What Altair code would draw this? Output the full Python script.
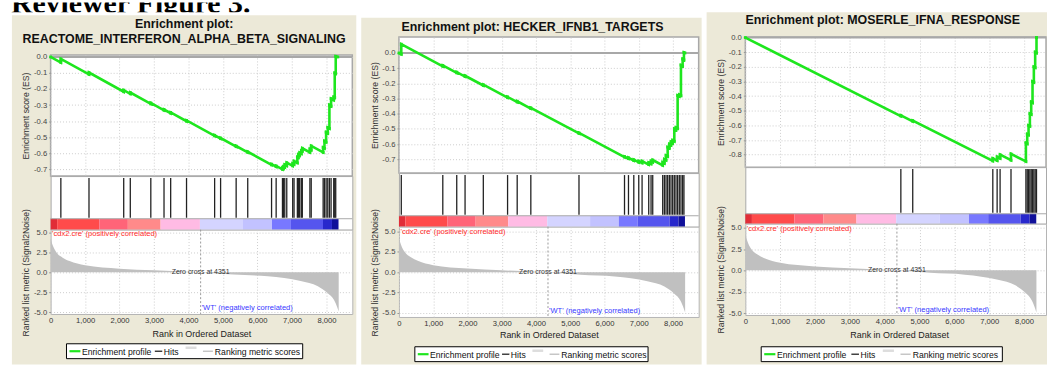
import altair as alt
import pandas as pd

FONT = "Liberation Sans"
GREEN = "#1ee61e"
BEIGE = "#ece9d8"
GRID = "#cdcdcd"

# Ranked list metric (Signal2Noise) shared by the three gene sets
metric_rank = [0, 60, 160, 350, 550, 1000, 2000, 3000, 4351, 5300, 6300, 7250, 7750, 8030, 8220, 8320, 8355]
metric_value = [4.2, 3.4, 2.55, 1.85, 1.42, 0.88, 0.46, 0.25, 0.0, -0.29, -0.5, -1.1, -1.75, -2.6, -3.5, -4.5, -4.95]
zero_cross = 4351

# Heat strip under the hit marks
heat_edges = [0, 190, 1410, 2240, 3190, 4330, 5580, 6420, 6970, 7900, 8160, 8350]
heat_colors = ["#e12d37", "#ff4b4b", "#ff6478", "#ff8a8a", "#ffbbe4", "#d4d4ff",
               "#c2c2ff", "#7878ff", "#5555ee", "#2828cc", "#10109a"]

rank_ticks = [0, 1000, 2000, 3000, 4000, 5000, 6000, 7000, 8000]
metric_ticks = [5.0, 2.5, 0.0, -2.5, -5.0]

# Gene set titles
titles = [
    ["Enrichment plot:", "REACTOME_INTERFERON_ALPHA_BETA_SIGNALING"],
    ["Enrichment plot: HECKER_IFNB1_TARGETS"],
    ["Enrichment plot: MOSERLE_IFNA_RESPONSE"],
]

# Hit positions and running enrichment score just before / after each hit
hits_1 = [297, 1113, 2120, 2311, 2906, 3289, 3482, 3942, 4757, 4930, 5381, 5717, 6408, 6541,
          6724, 6754, 6791, 6849, 7021, 7060, 7156, 7185, 7223, 7271, 7300, 7520, 7558,
          7904, 7942, 7990, 8038, 8086, 8134, 8211, 8240, 8269]
es_before_1 = [-0.035, -0.109, -0.217, -0.230, -0.293, -0.333, -0.351, -0.401, -0.493, -0.510,
               -0.560, -0.596, -0.674, -0.685, -0.702, -0.696, -0.688, -0.679, -0.680, -0.670,
               -0.661, -0.628, -0.615, -0.604, -0.588, -0.596, -0.580, -0.596, -0.570, -0.531,
               -0.476, -0.446, -0.306, -0.269, -0.253, -0.103]
es_after_1 = [-0.012, -0.097, -0.207, -0.222, -0.287, -0.328, -0.346, -0.396, -0.489, -0.506,
              -0.556, -0.592, -0.669, -0.680, -0.692, -0.684, -0.672, -0.660, -0.665, -0.650,
              -0.625, -0.610, -0.598, -0.585, -0.570, -0.575, -0.555, -0.565, -0.525, -0.470,
              -0.440, -0.300, -0.260, -0.250, -0.100, 0.004]
es_end_1 = 8330

hits_2 = [68, 1280, 1687, 1930, 2463, 3171, 3452, 3850, 5256, 6585, 6701, 6856, 7001, 7098,
          7292, 7360, 7409, 7700, 7748, 7797, 7845, 7894, 7942, 7991, 8039, 8088, 8136, 8185,
          8233, 8282, 8320]
es_before_2 = [-0.008, -0.088, -0.131, -0.155, -0.214, -0.294, -0.323, -0.366, -0.530, -0.686,
               -0.696, -0.709, -0.720, -0.724, -0.735, -0.730, -0.718, -0.740, -0.726, -0.706,
               -0.681, -0.626, -0.606, -0.591, -0.581, -0.506, -0.496, -0.286, -0.281, -0.086,
               -0.045]
es_after_2 = [0.058, -0.082, -0.126, -0.150, -0.209, -0.289, -0.318, -0.361, -0.526, -0.682,
              -0.690, -0.703, -0.712, -0.712, -0.722, -0.712, -0.705, -0.720, -0.700, -0.675,
              -0.620, -0.600, -0.585, -0.575, -0.500, -0.490, -0.280, -0.275, -0.080, -0.040,
              0.004]
es_end_2 = 8350

hits_3 = [4464, 4805, 7103, 7227, 7312, 7625, 8053, 8091, 8129, 8167, 8205, 8243, 8281, 8319, 8357]
es_before_3 = [-0.536, -0.572, -0.843, -0.840, -0.825, -0.838, -0.846, -0.725, -0.665, -0.605,
               -0.525, -0.445, -0.305, -0.205, -0.105]
es_after_3 = [-0.531, -0.567, -0.825, -0.815, -0.800, -0.795, -0.720, -0.660, -0.600, -0.520,
              -0.440, -0.300, -0.200, -0.100, 0.0]
es_end_3 = 8360

es_ticks_1 = [0.0, -0.1, -0.2, -0.3, -0.4, -0.5, -0.6, -0.7]
es_ticks_2 = [0.0, -0.1, -0.2, -0.3, -0.4, -0.5, -0.6, -0.7]
es_ticks_3 = [0.0, -0.1, -0.2, -0.3, -0.4, -0.5, -0.6, -0.7, -0.8]

PANELS = [
    dict(hits=hits_1, before=es_before_1, after=es_after_1, end=es_end_1, ticks=es_ticks_1),
    dict(hits=hits_2, before=es_before_2, after=es_after_2, end=es_end_2, ticks=es_ticks_2),
    dict(hits=hits_3, before=es_before_3, after=es_after_3, end=es_end_3, ticks=es_ticks_3),
]

# Geometry of each card (pixels, relative to the card's plotting origin)
LAYOUT = [
    dict(w=304, rank_max=8750, head_h=43, es_h=122, hit_h=54, cb_top=43, rank_h=85,
         es_dom=[-0.7435, 0.0124], rank_dom=[-5.25, 5.375],
         card=(-39, 308, 3), title_x=134.5, title_y=[12, 27],
         legend=(16, 254, 115, 130), ytitle_r=43, xtitle=(152, 20), red_y=4, blue_y=79),
    dict(w=302, rank_max=8750, head_h=25, es_h=137, hit_h=54, cb_top=43, rank_h=91,
         es_dom=[-0.791, 0.1046], rank_dom=[-5.49, 5.61],
         card=(-38, 305, 5.5), title_x=134.5, title_y=[15],
         legend=(16, 251, 121, 136), ytitle_r=46, xtitle=(151, 18), red_y=5, blue_y=85),
    dict(w=303, rank_max=8630, head_h=25, es_h=131, hit_h=57, cb_top=47, rank_h=92,
         es_dom=[-0.885, 0.003], rank_dom=[-5.23, 5.47],
         card=(-39, 304, 0), title_x=138.5, title_y=[8],
         legend=(16, 259, 124, 139), ytitle_r=46, xtitle=(155, 20), red_y=5, blue_y=87),
]
CARD_BOTTOM = 355

HYPHEN = "replace(format(datum.value, '.1f'), '\u2212', '-')"
one = pd.DataFrame({"k": [0]})


def build_panel(k):
    P, L = PANELS[k], LAYOUT[k]
    W = L["w"]
    xs = alt.Scale(domain=[0, L["rank_max"]], nice=False, zero=False)

    # ---- header: beige card and title ----
    cx0, cx1, cy0 = L["card"]
    card = alt.Chart(one).mark_rect(color=BEIGE).encode(
        x=alt.value(cx0), x2=alt.value(cx1), y=alt.value(cy0), y2=alt.value(CARD_BOTTOM))
    head_layers = [card]
    for text, ty in zip(titles[k], L["title_y"]):
        head_layers.append(alt.Chart(one).mark_text(
            text=text, font=FONT, fontSize=12.5, fontWeight="bold", color="#111111",
            align="center", baseline="middle").encode(
            x=alt.value(L["title_x"]), y=alt.value(ty)))
    header = alt.layer(*head_layers).properties(width=W, height=L["head_h"])

    # ---- running enrichment score ----
    ranks, scores = [0], [0.0]
    for h, b, a in zip(P["hits"], P["before"], P["after"]):
        ranks += [h, h]
        scores += [b, a]
    ranks.append(P["end"])
    scores.append(0.0)
    es_df = pd.DataFrame({"i": list(range(len(ranks))), "rank": ranks, "es": scores})

    es_y = alt.Scale(domain=L["es_dom"], nice=False, zero=False)
    zero_line = alt.Chart(one).mark_rule(color="#a8a8a8", strokeWidth=2).encode(y=alt.datum(0))
    es_line = alt.Chart(es_df).mark_line(
        color=GREEN, strokeWidth=2.6,
        point=alt.OverlayMarkDef(color=GREEN, filled=True, shape="square", size=8)).encode(
        x=alt.X("rank:Q", scale=xs, axis=alt.Axis(
            values=rank_ticks, tickCount=50, labels=False, ticks=False, domain=False,
            title="", grid=True, gridColor=GRID, gridDash=[1, 2])),
        y=alt.Y("es:Q", scale=es_y, axis=alt.Axis(
            values=P["ticks"], tickCount=50, labelExpr=HYPHEN, labelFont=FONT,
            labelFontSize=7.7, labelColor="#444444", labelPadding=2, labelOverlap=False,
            tickSize=2, tickColor="#999999", domain=False, grid=True, gridColor=GRID,
            gridDash=[1, 2], title="Enrichment score (ES)", titleFont=FONT, titleFontSize=8.7,
            titleFontWeight="normal", titleColor="#333333", titleAngle=270,
            titleX=-25, titleY=L["es_h"] / 2, titleAlign="center", titleBaseline="middle")),
        order="i:Q")
    es_view = alt.layer(zero_line, es_line).properties(
        width=W, height=L["es_h"],
        view=alt.ViewBackground(fill="white", stroke="#a8a8a8", strokeWidth=1.5))

    # ---- hits and heat strip ----
    hits_df = pd.DataFrame({"rank": P["hits"]})
    heat_df = pd.DataFrame({"start": heat_edges[:-1], "end": heat_edges[1:], "color": heat_colors})
    hit_rules = alt.Chart(hits_df).mark_rule(color="#222222", strokeWidth=1.3).encode(
        x=alt.X("rank:Q", scale=xs, axis=None),
        y=alt.value(2), y2=alt.value(L["cb_top"] - 1))
    heat = alt.Chart(heat_df).mark_rect().encode(
        x=alt.X("start:Q", scale=xs, axis=None), x2="end:Q",
        y=alt.value(L["cb_top"]), y2=alt.value(L["hit_h"]),
        color=alt.Color("color:N", scale=None))
    strip_top = alt.Chart(one).mark_rule(color="#a8a8a8", strokeWidth=1).encode(
        x=alt.value(0), x2=alt.value(W), y=alt.value(L["cb_top"]))
    hit_view = alt.layer(hit_rules, heat, strip_top).properties(
        width=W, height=L["hit_h"],
        view=alt.ViewBackground(fill="white", stroke="#a8a8a8", strokeWidth=1))

    # ---- ranked list metric ----
    metric_df = pd.DataFrame({"rank": metric_rank, "metric": metric_value})
    zc_df = pd.DataFrame({"rank": [zero_cross]})
    ry = alt.Scale(domain=L["rank_dom"], nice=False, zero=False)
    area = alt.Chart(metric_df).mark_area(color="#c0c0c0", interpolate="monotone").encode(
        x=alt.X("rank:Q", scale=xs, axis=alt.Axis(
            values=rank_ticks, tickCount=50, format=",d", labelFlush=False, labelOverlap=False,
            labelFont=FONT, labelFontSize=7.7, labelColor="#333333", labelPadding=3,
            ticks=False, domain=False, grid=True, gridColor=GRID, gridDash=[1, 2],
            title="Rank in Ordered Dataset", titleFont=FONT, titleFontSize=9,
            titleFontWeight="normal", titleColor="#222222",
            titleX=L["xtitle"][0], titleY=L["xtitle"][1], titleAlign="center",
            titleBaseline="middle")),
        y=alt.Y("metric:Q", scale=ry, axis=alt.Axis(
            values=metric_ticks, tickCount=50, labelExpr=HYPHEN, labelFont=FONT,
            labelFontSize=7.7, labelColor="#444444", labelPadding=2, labelOverlap=False,
            tickSize=2, tickColor="#999999", domain=False, grid=True, gridColor=GRID,
            gridDash=[1, 2], title="Ranked list metric (Signal2Noise)", titleFont=FONT,
            titleFontSize=8.7, titleFontWeight="normal", titleColor="#333333", titleAngle=270,
            titleX=-25, titleY=L["ytitle_r"], titleAlign="center", titleBaseline="middle")),
        y2=alt.datum(0))
    zc_rule = alt.Chart(zc_df).mark_rule(color="#9a9a9a", strokeDash=[2, 2]).encode(
        x=alt.X("rank:Q", scale=xs))
    zc_text = alt.Chart(zc_df).mark_text(
        text=f"Zero cross at {zero_cross}", font=FONT, fontSize=7, color="#333333",
        baseline="middle", align="center").encode(x=alt.X("rank:Q", scale=xs), y=alt.datum(0))
    pos_text = alt.Chart(one).mark_text(
        text="'cdx2.cre' (positively correlated)", font=FONT, fontSize=7.6, color="#ff2b2b",
        align="left", baseline="middle").encode(x=alt.value(1.5), y=alt.value(L["red_y"]))
    neg_text = alt.Chart(zc_df).mark_text(
        text="'WT' (negatively correlated)", font=FONT, fontSize=7.6, color="#3838ff",
        align="left", baseline="middle", dx=1).encode(
        x=alt.X("rank:Q", scale=xs), y=alt.value(L["blue_y"]))

    # legend box under the axis title
    x0, x1, y0, y1 = L["legend"]
    s = (x1 - x0) / 238.0
    yc = (y0 + y1) / 2
    box = alt.Chart(one).mark_rect(fill="white", stroke="#000000", strokeWidth=1).encode(
        x=alt.value(x0), x2=alt.value(x1), y=alt.value(y0), y2=alt.value(y1))
    leg = [box]

    def seg(a, b, color, width, yy=yc):
        return alt.Chart(one).mark_rule(color=color, strokeWidth=width).encode(
            x=alt.value(x0 + a * s), x2=alt.value(x0 + b * s), y=alt.value(yy))

    def lab(a, text):
        return alt.Chart(one).mark_text(
            text=text, font=FONT, fontSize=8.7, color="#111111", align="left",
            baseline="middle").encode(x=alt.value(x0 + a * s), y=alt.value(yc + 0.5))

    leg += [seg(3, 14, GREEN, 2.2), lab(15.5, "Enrichment profile"),
            seg(89, 96.5, "#111111", 1.2), lab(98, "Hits"),
            seg(120, 131, "#dddddd", 2.5, yc - 3.5),
            seg(137.5, 147.5, "#b8b8b8", 1.2), lab(149.5, "Ranking metric scores")]

    rank_view = alt.layer(area, zc_rule, zc_text, pos_text, neg_text, *leg).properties(
        width=W, height=L["rank_h"],
        view=alt.ViewBackground(fill="white", stroke="#b4b4b4", strokeWidth=1))

    return alt.vconcat(header, es_view, hit_view, rank_view, spacing=0, bounds="flush")


caption = alt.Chart(one).mark_text(
    text="Reviewer Figure 3.", font="Liberation Serif", fontSize=30, fontWeight="bold",
    color="#000000", align="left", baseline="alphabetic", clip=True).encode(
    x=alt.value(10), y=alt.value(11)).properties(width=1048, height=10)

# narrow blank cell that sets the left margin of the first card
spacer = alt.Chart(one).mark_rect(opacity=0).encode(
    x=alt.value(0), x2=alt.value(6), y=alt.value(0), y2=alt.value(1)).properties(width=6, height=1)

row = alt.hconcat(spacer, build_panel(0), build_panel(1), build_panel(2),
                  spacing=3, bounds="full")

chart = alt.vconcat(caption, row, spacing=0, bounds="flush").properties(
    padding=0, background="white"
).configure(font=FONT).configure_axis(labelOverlap=False).configure_view(stroke="transparent")

chart.save("out.html", embed_options={"renderer": "svg", "actions": False})
